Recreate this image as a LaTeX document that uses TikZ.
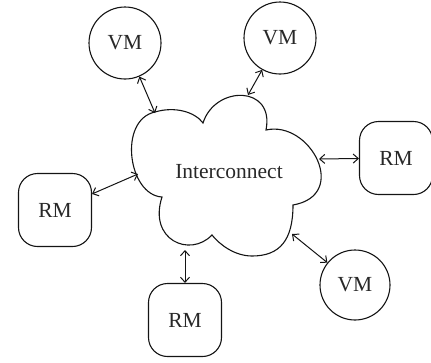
\documentclass[tikz,border=0pt]{standalone}
\usepackage{fontspec}
\setmainfont{Liberation Serif}
\usetikzlibrary{arrows.meta}
\definecolor{txt}{RGB}{40,40,40}
\definecolor{ln}{RGB}{20,20,20}
\tikzset{
  lbl/.style={text=txt,font=\fontsize{21.5}{24}\selectfont},
  vmnode/.style={circle,draw=ln,line width=1.1pt,minimum size=72pt,inner sep=0pt,lbl},
  rmnode/.style={rectangle,rounded corners=19pt,draw=ln,line width=1.1pt,minimum width=73pt,minimum height=73pt,inner sep=0pt,lbl},
  link/.style={draw=ln,line width=1pt,{Straight Barb[length=5pt,width=9pt]}-{Straight Barb[length=5pt,width=9pt]}},
  cloudline/.style={draw=ln,line width=1.1pt}
}
\begin{document}
\begin{tikzpicture}[x=1pt,y=-1pt]
\useasboundingbox (0,0) rectangle (431,362);
% cloud
\coordinate (A) at (203,123);
\coordinate (B) at (266,130);
\coordinate (C) at (293,205);
\coordinate (D) at (212,235);
\coordinate (E) at (162,197);
\draw[cloudline] (E) .. controls (128,195) and (118,120) .. (155,112)
  .. controls (175,106) and (195,112) .. (A)
  .. controls (215,85) and (275,85) .. (B)
  .. controls (310,120) and (350,195) .. (C)
  .. controls (293,240) and (280,256) .. (252,256)
  .. controls (235,256) and (220,245) .. (D)
  .. controls (190,258) and (148,240) .. (E) -- cycle;
\node[lbl] (ic) at (229,172) {Interconnect};
% cloud contact points
\coordinate (c1) at (155,113);
\coordinate (c2) at (248,95);
\coordinate (c3) at (319,159);
\coordinate (c4) at (138,174);
\coordinate (c5) at (185,250);
\coordinate (c6) at (292,234);
% nodes
\node[vmnode] (vm1) at (125,43) {VM};
\node[vmnode] (vm2) at (280,38) {VM};
\node[vmnode,minimum size=70pt] (vm3) at (355,285) {VM};
\node[rmnode] (rm1) at (396,158) {RM};
\node[rmnode] (rm2) at (55,210) {RM};
\node[rmnode] (rm3) at (185,320) {RM};
% links
\draw[link] (vm1) -- (c1);
\draw[link] (vm2) -- (c2);
\draw[link] (rm1) -- (c3);
\draw[link] (rm2) -- (c4);
\draw[link] (rm3) -- (c5);
\draw[link] (vm3) -- (c6);
\end{tikzpicture}
\end{document}
